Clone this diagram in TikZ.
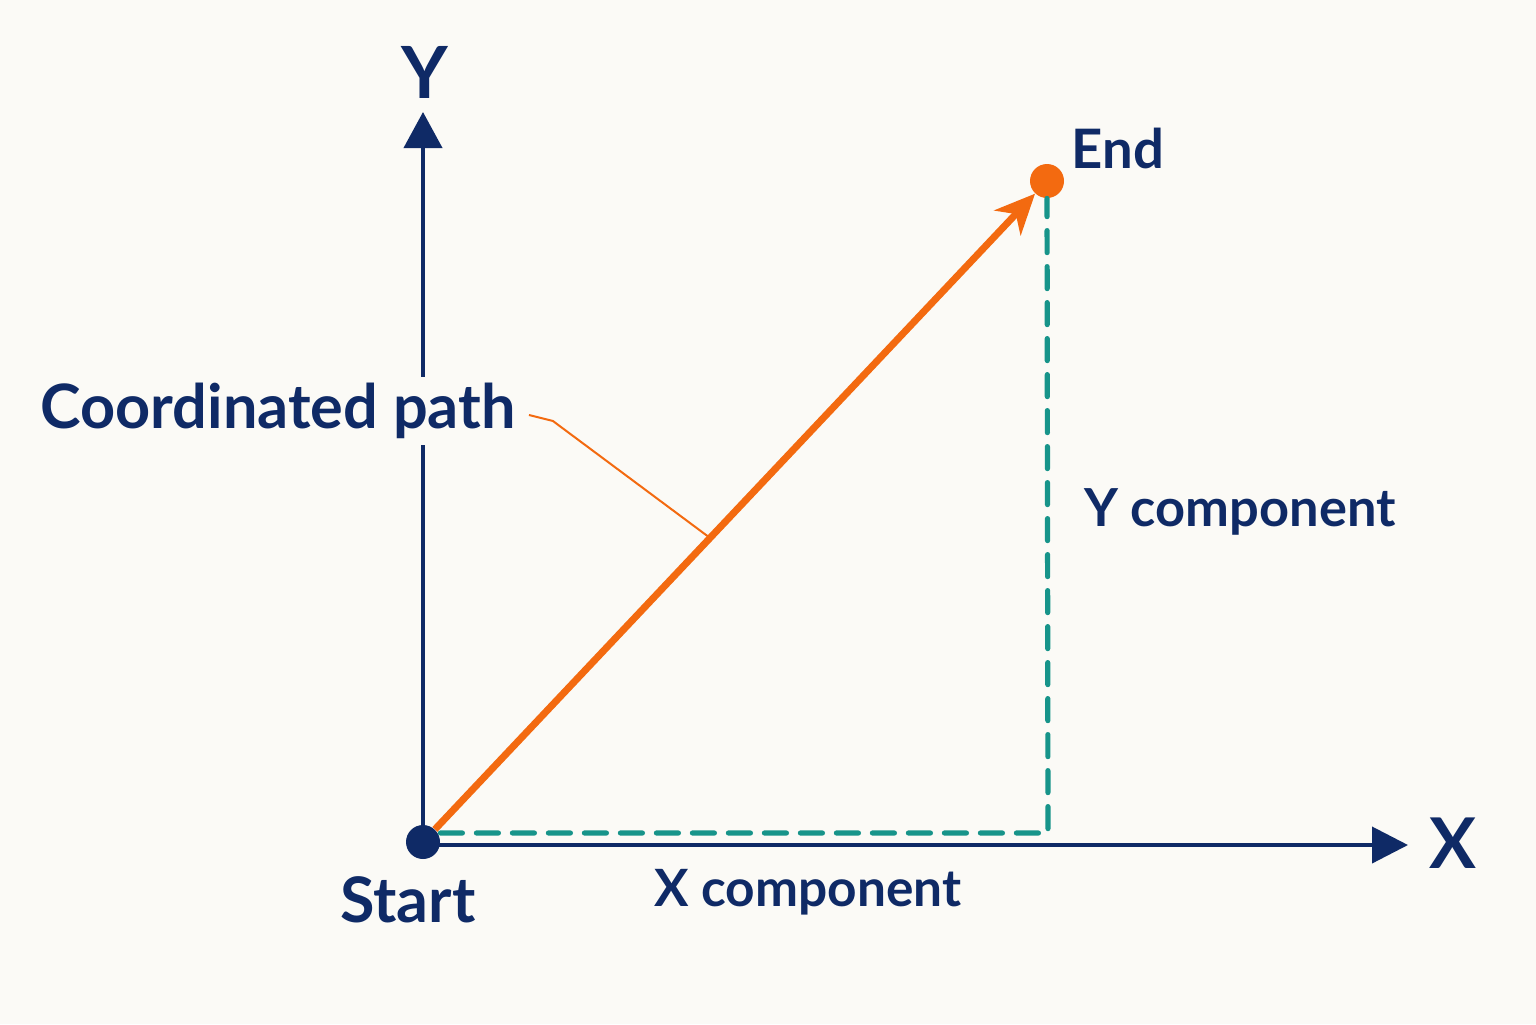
\documentclass[tikz,border=0pt]{standalone}
\usepackage{fontspec}
\setmainfont{Lato}
\usetikzlibrary{arrows.meta,positioning,calc}
\definecolor{navy}{HTML}{0F2A66}
\definecolor{vecorange}{HTML}{F36A10}
\definecolor{compteal}{HTML}{17948A}
\definecolor{paper}{HTML}{FBFAF6}
\tikzset{
	axis/.style={line width=2pt,draw=navy},
	comp/.style={line width=2.6pt,draw=compteal,dash pattern=on 11pt off 7pt,line cap=round},
	lbl/.style={text=navy,inner sep=0pt,font=\bfseries\fontsize{#1}{#1}\selectfont},
	dot/.style={circle,fill=#1,minimum size=17pt,inner sep=0pt}
}
\begin{document}
\begin{tikzpicture}[x=0.5pt,y=-0.5pt]
	\fill [paper] (0,0) rectangle (1536,1024);
	\coordinate (O) at (423,842);
	\coordinate (ytip) at (423,112);
	\coordinate (xtip) at (1408,845);
	\coordinate (corner) at (1048,833);
	\draw [axis,-{Triangle[length=18pt,width=19pt]}] (O) -- (ytip);
	\draw [axis,-{Triangle[length=18pt,width=18pt]}] (O |- xtip) -- (xtip);
	\node [lbl=36] (ylab) at (425,72) {Y};
	\node [lbl=35] (xlab) at (1453,843) {X};
	\node [lbl=30.6,fill=paper,inner xsep=0pt,inner ysep=3pt] (cp) at (278,411) {Coordinated path};
	\node [dot=navy] (start) at (O) {};
	\node [dot=vecorange] (end) at (1047,181) {};
	\draw [comp] (start.east |- corner) -- (corner) -- (end);
	\draw [line width=3.5pt,vecorange,-{Stealth[length=20pt,width=18pt,inset=6pt]}] (start) -- (end);
	\coordinate (lead) at ($(O)!0.46!(end)$);
	\draw [line width=1pt,vecorange] (cp.east) ++(13,4) -- ++(24,6) -- (lead);
	\node [lbl=31.4] (startlab) at (408,900) {Start};
	\node [lbl=27.2] (endlab) at (1118,148) {End};
	\node [lbl=25.7] (xcomp) at (808,892) {X component};
	\node [lbl=26.2] (ycomp) at (1240,512) {Y component};
\end{tikzpicture}
\end{document}
